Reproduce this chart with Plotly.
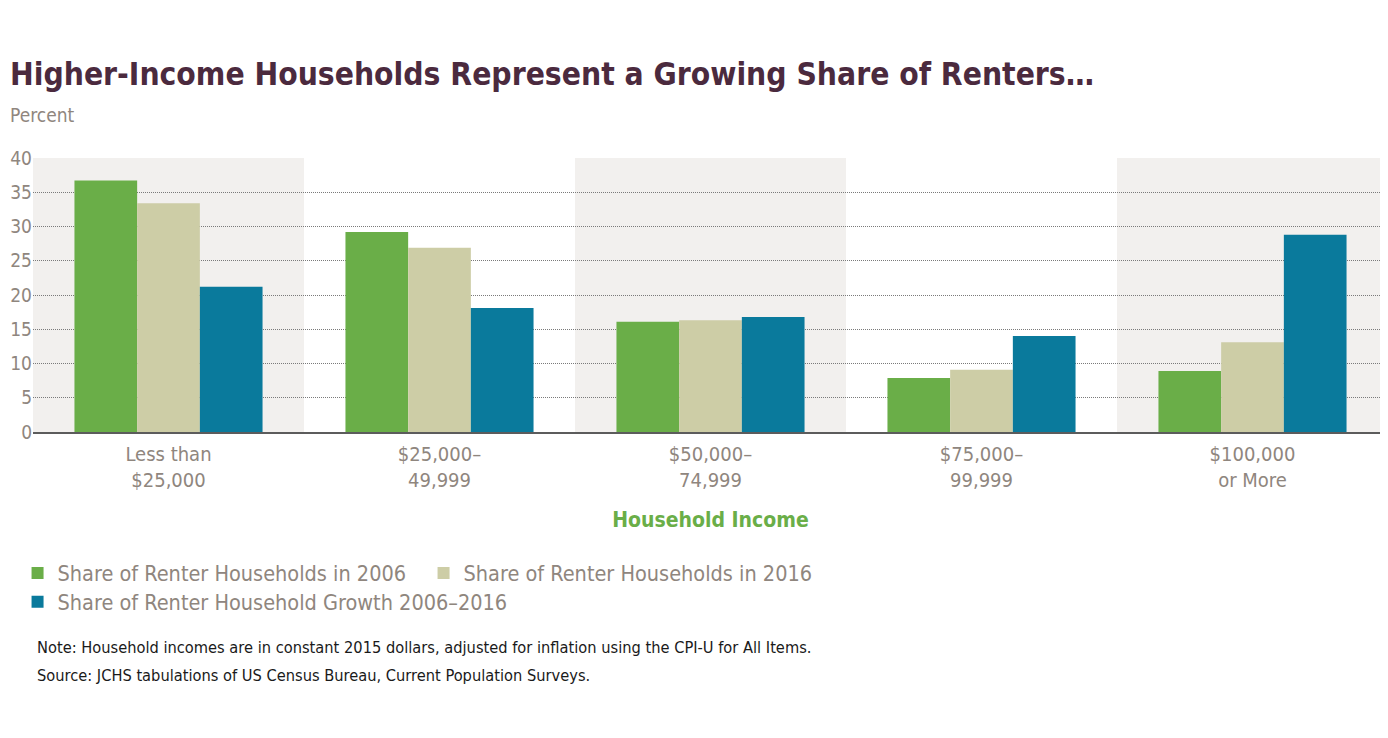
import plotly.graph_objects as go

categories = ["Less than<br>$25,000", "$25,000–<br>49,999", "$50,000–<br>74,999",
              "$75,000–<br>99,999", "$100,000<br>or More"]
share_2006 = [36.7, 29.2, 16.1, 7.9, 8.9]
share_2016 = [33.4, 26.9, 16.3, 9.1, 13.1]
growth_share = [21.2, 18.1, 16.8, 14.0, 28.8]
y_ticks = [0, 5, 10, 15, 20, 25, 30, 35, 40]

narrow = "DejaVu Sans Condensed, Roboto, sans-serif"
gray = "#8f867e"

fig = go.Figure()
fig.add_trace(go.Bar(x=categories, y=share_2006, name="Share of Renter Households in 2006",
                     marker_color="#6aae48", marker_line_width=0, legend="legend"))
fig.add_trace(go.Bar(x=categories, y=share_2016, name="Share of Renter Households in 2016",
                     marker_color="#cdcda6", marker_line_width=0, legend="legend"))
fig.add_trace(go.Bar(x=categories, y=growth_share, name="Share of Renter Household Growth 2006–2016",
                     marker_color="#0a7a9c", marker_line_width=0, legend="legend2"))

# shaded bands behind every other category
for i in range(0, len(categories), 2):
    fig.add_shape(type="rect", xref="x", yref="y", x0=i - 0.5, x1=i + 0.5, y0=0, y1=40,
                  fillcolor="#f2f0ee", line_width=0, layer="below")

legend_style = dict(orientation="h", xanchor="left", yanchor="top",
                    font=dict(family=narrow, size=21.5, color=gray),
                    bgcolor="rgba(0,0,0,0)", traceorder="normal")

# page has an 8px body margin, so the figure is sized to fill what is left
fig.update_layout(
    width=1380, height=730,
    margin=dict(l=25, r=0, t=150, b=306, autoexpand=False),
    paper_bgcolor="white", plot_bgcolor="white",
    barmode="group", bargap=0.306, bargroupgap=0,
    showlegend=True,
    legend=dict(x=-0.0114, y=-0.44, entrywidth=361, entrywidthmode="pixels", **legend_style),
    legend2=dict(x=-0.0114, y=-0.545, **legend_style),
    xaxis=dict(range=[-0.5, 4.5], showgrid=False, ticks="", showline=True,
               linecolor="#5c5c5c", linewidth=2, ticklabelstandoff=3,
               tickfont=dict(family=narrow, size=20, color=gray),
               title=dict(text="<b>Household Income</b>", standoff=21,
                          font=dict(family=narrow, size=21, color="#6aae48"))),
    yaxis=dict(range=[0, 40], tickvals=y_ticks, showgrid=True, gridcolor="#7a7a7a",
               griddash="1px,1px", gridwidth=1, zeroline=False, ticks="",
               tickfont=dict(family=narrow, size=19, color=gray)),
    font=dict(family=narrow),
)

fig.add_annotation(text="<b>Higher-Income Households Represent a Growing Share of Renters…</b>",
                   xref="paper", yref="paper", x=-0.0185, y=1.305, xanchor="left", yanchor="middle",
                   showarrow=False, font=dict(family=narrow, size=31.5, color="#4b2a3e"))
fig.add_annotation(text="Percent", xref="paper", yref="paper", x=-0.0185, y=1.157,
                   xanchor="left", yanchor="middle", showarrow=False,
                   font=dict(family=narrow, size=19, color=gray))
fig.add_annotation(text="Note: Household incomes are in constant 2015 dollars, adjusted for inflation using the CPI-U for All Items.",
                   xref="paper", yref="paper", x=0.0015, y=-0.788, xanchor="left", yanchor="middle",
                   showarrow=False, font=dict(family=narrow, size=16.3, color="#1a1a1a"))
fig.add_annotation(text="Source: JCHS tabulations of US Census Bureau, Current Population Surveys.",
                   xref="paper", yref="paper", x=0.0015, y=-0.887, xanchor="left", yanchor="middle",
                   showarrow=False, font=dict(family=narrow, size=16.3, color="#1a1a1a"))

fig.write_html("out.html")
